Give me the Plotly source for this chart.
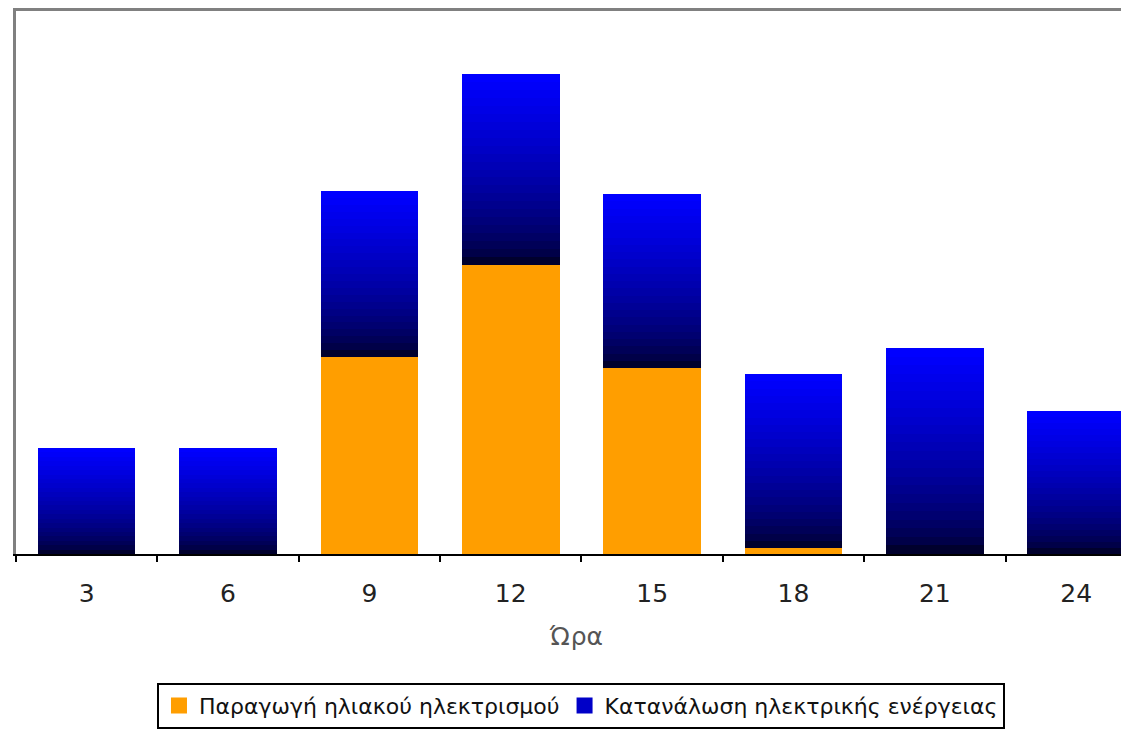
import plotly.graph_objects as go

hours = ["3", "6", "9", "12", "15", "18", "21", "24"]
production = [0.0, 0.0, 1.97, 2.89, 1.86, 0.06, 0.0, 0.0]
consumption = [1.06, 1.06, 1.66, 1.91, 1.74, 1.74, 2.06, 1.43]

name_prod = "Παραγωγή ηλιακού ηλεκτρισμού"
name_cons = "Κατανάλωση ηλεκτρικής ενέργειας"
x_title = "Ώρα"

ORANGE = "#FF9E00"
N = 24  # gradient slices for the blue segment
fig = go.Figure()
fig.add_trace(go.Bar(x=hours, y=production, name=name_prod,
                     marker=dict(color=ORANGE, line=dict(width=0)),
                     showlegend=False, hoverinfo="skip"))
for k in range(N):
    t = k / (N - 1)  # 0 bottom -> 1 top
    b = int(45 + (255 - 45) * (t ** 0.65))
    color = f"rgb(0,0,{b})"
    fig.add_trace(go.Bar(x=hours, y=[c / N for c in consumption],
                         name=name_cons, showlegend=False,
                         marker=dict(color=color, line=dict(width=0)),
                         hoverinfo="skip"))
# legend entries
fig.add_trace(go.Scatter(x=[hours[0]], y=[None], name=name_prod, mode="markers",
                         marker=dict(symbol="square", size=16, color=ORANGE),
                         hoverinfo="skip"))
fig.add_trace(go.Scatter(x=[hours[0]], y=[None], name=name_cons, mode="markers",
                         marker=dict(symbol="square", size=16, color="#0000C8"),
                         hoverinfo="skip"))

font_family = "DejaVu Sans"
fig.update_layout(
    width=1129, height=734,
    barmode="stack", bargap=0.31,
    plot_bgcolor="white", paper_bgcolor="white",
    margin=dict(l=8, r=0, t=3, b=188),
    font=dict(family=font_family, color="#222222"),
    xaxis=dict(range=[-0.5, 7.43], type="category",
               showline=True, linecolor="black", linewidth=2,
               ticks="outside", tickson="boundaries", ticklen=6,
               tickcolor="black", tickwidth=2,
               ticklabelstandoff=16,
               tickfont=dict(size=25, color="#222222"),
               title=dict(text=x_title, font=dict(size=25, color="#555555"), standoff=20),
               showgrid=False, zeroline=False),
    xaxis2=dict(overlaying="x", side="top", showline=True, linecolor="#808080",
                linewidth=3, showticklabels=False, ticks="", showgrid=False,
                zeroline=False, range=[0, 1]),
    yaxis=dict(range=[0, 5.43], showline=True, linecolor="#808080", linewidth=3,
               showticklabels=False, ticks="", showgrid=False, zeroline=False),
    legend=dict(orientation="h", x=0.504, xanchor="center", y=-0.237, yanchor="top",
                bordercolor="black", borderwidth=2,
                font=dict(size=22, family=font_family, color="#111111"),
                traceorder="normal", itemwidth=30, itemsizing="trace",
                tracegroupgap=0),
    showlegend=True,
)
fig.add_trace(go.Scatter(x=[None], y=[None], xaxis="x2", showlegend=False, hoverinfo="skip"))
fig.write_html("out.html")
